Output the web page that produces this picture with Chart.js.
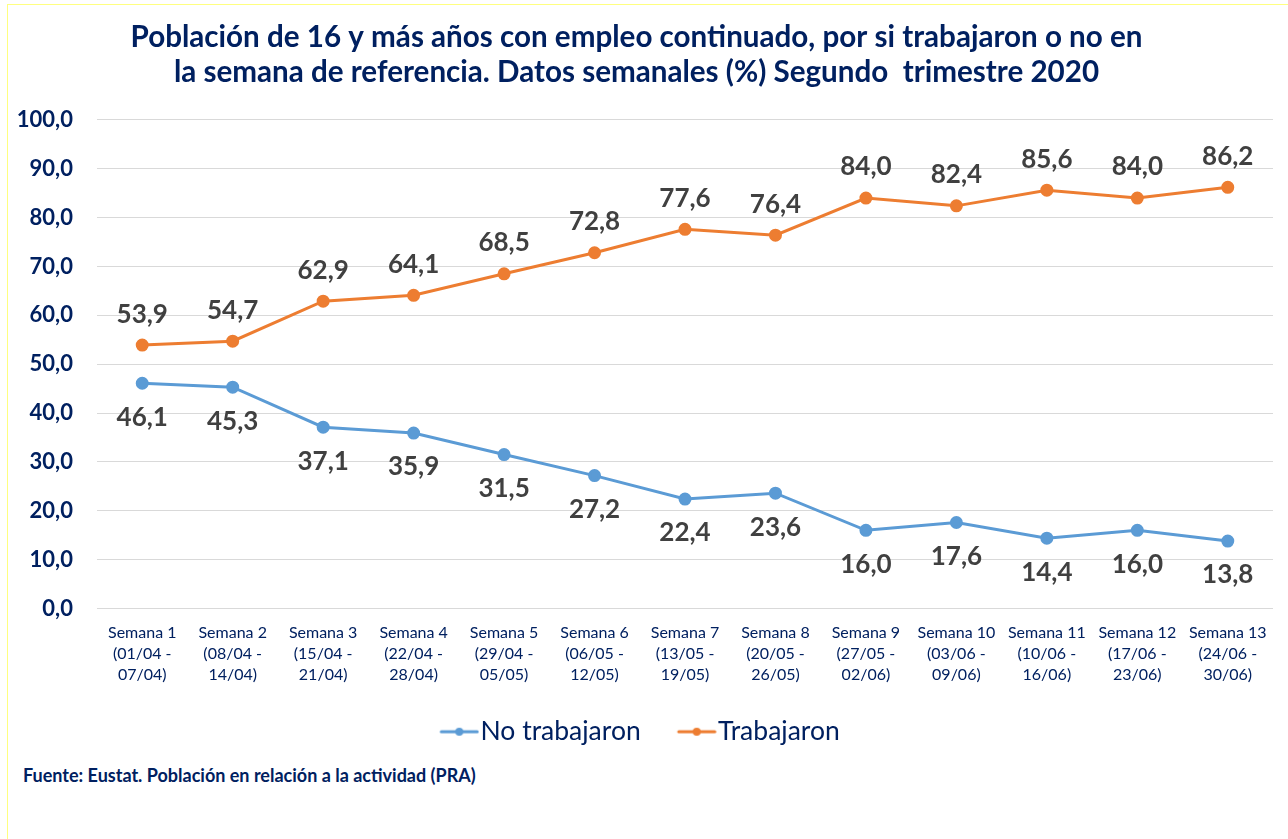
<!DOCTYPE html>
<html>
<head>
<meta charset="utf-8">
<script src="https://cdn.jsdelivr.net/npm/chart.js@4.4.0/dist/chart.umd.min.js"></script>
<style>
  html, body { margin: 0; padding: 0; background: #fff; }
  body { width: 1288px; height: 839px; position: relative; overflow: hidden; font-family: Lato, "Open Sans", sans-serif; }
  #frame { position: absolute; left: 7px; top: 4px; width: 1400px; height: 900px; border: 1px solid #ffff80; box-sizing: border-box; }
  #wrap { position: absolute; left: 0; top: 0; width: 1288px; height: 760px; }
  #footer { position: absolute; left: 23px; top: 764px; font-size: 18px; line-height: 22px; font-weight: bold; color: #002060; white-space: nowrap; }
</style>
</head>
<body>
<div id="frame"></div>
<div id="wrap"><canvas id="c"></canvas></div>
<div id="footer">Fuente: Eustat. Población en relación a la actividad (PRA)</div>
<script>
const categories = [
  ["Semana 1", "(01/04 -", "07/04)"],
  ["Semana 2", "(08/04 -", "14/04)"],
  ["Semana 3", "(15/04 -", "21/04)"],
  ["Semana 4", "(22/04 -", "28/04)"],
  ["Semana 5", "(29/04 -", "05/05)"],
  ["Semana 6", "(06/05 -", "12/05)"],
  ["Semana 7", "(13/05 -", "19/05)"],
  ["Semana 8", "(20/05 -", "26/05)"],
  ["Semana 9", "(27/05 -", "02/06)"],
  ["Semana 10", "(03/06 -", "09/06)"],
  ["Semana 11", "(10/06 -", "16/06)"],
  ["Semana 12", "(17/06 -", "23/06)"],
  ["Semana 13", "(24/06 -", "30/06)"]
];
const noTrabajaron = [46.1, 45.3, 37.1, 35.9, 31.5, 27.2, 22.4, 23.6, 16.0, 17.6, 14.4, 16.0, 13.8];
const trabajaron = [53.9, 54.7, 62.9, 64.1, 68.5, 72.8, 77.6, 76.4, 84.0, 82.4, 85.6, 84.0, 86.2];
const titleLines = [
  "Población de 16 y más años con empleo continuado, por si trabajaron o no en",
  "la semana de referencia. Datos semanales (%) Segundo  trimestre 2020"
];

const NAVY = "#002060";
const BLUE = "#5B9BD5";
const ORANGE = "#ED7D31";
const FONT = "Lato, 'Open Sans', sans-serif";

// legend icon: line with a dot, placed at the right side of a wider transparent image
function legendIcon(color) {
  const cv = document.createElement("canvas");
  cv.width = 78; cv.height = 12;
  const g = cv.getContext("2d");
  const x1 = 78 - 38, x2 = 78 - 2;
  g.strokeStyle = color; g.lineWidth = 3; g.lineCap = "round";
  g.beginPath(); g.moveTo(x1, 6); g.lineTo(x2, 6); g.stroke();
  g.fillStyle = color; g.beginPath(); g.arc((x1 + x2) / 2, 6, 4, 0, Math.PI * 2); g.fill();
  return cv;
}

const valueLabels = {
  id: "valueLabels",
  afterDatasetsDraw(chart) {
    const ctx = chart.ctx;
    ctx.save();
    ctx.font = "bold 26px " + FONT;
    ctx.fillStyle = "#404040";
    ctx.textAlign = "center";
    ctx.textBaseline = "middle";
    chart.data.datasets.forEach((ds, di) => {
      const meta = chart.getDatasetMeta(di);
      meta.data.forEach((pt, i) => {
        const off = ds.labelAbove ? -31 : 34;
        ctx.fillText(ds.data[i].toFixed(1).replace(".", ","), pt.x, pt.y + off);
      });
    });
    ctx.restore();
  }
};

const legendShift = {
  id: "legendShift",
  afterLayout(chart) {
    if (chart.legend) { chart.legend.left -= 10; chart.legend.right -= 10; }
  }
};

new Chart(document.getElementById("c"), {
  type: "line",
  data: {
    labels: categories,
    datasets: [
      { label: "No trabajaron", data: noTrabajaron, borderColor: BLUE, backgroundColor: BLUE,
        borderWidth: 3, pointRadius: 5, pointHoverRadius: 5, pointStyle: "circle", labelAbove: false, tension: 0 },
      { label: "Trabajaron", data: trabajaron, borderColor: ORANGE, backgroundColor: ORANGE,
        borderWidth: 3, pointRadius: 5, pointHoverRadius: 5, pointStyle: "circle", labelAbove: true, tension: 0 }
    ]
  },
  options: {
    responsive: true,
    maintainAspectRatio: false,
    animation: false,
    layout: { padding: { left: 0, right: 15, top: 0, bottom: 5 } },
    plugins: {
      title: {
        display: true,
        text: titleLines,
        color: NAVY,
        font: { family: FONT, size: 29.6, weight: "bold", lineHeight: 1.18 },
        padding: { top: 20, bottom: 30 }
      },
      legend: {
        position: "bottom",
        labels: {
          usePointStyle: true,
          pointStyleWidth: 54,
          padding: 10,
          color: NAVY,
          font: { family: FONT, size: 26.5 },
          generateLabels(chart) {
            return chart.data.datasets.map((ds, i) => ({
              text: ds.label,
              pointStyle: legendIcon(ds.borderColor),
              fillStyle: ds.borderColor,
              strokeStyle: ds.borderColor,
              lineWidth: 0,
              hidden: false,
              datasetIndex: i,
              fontColor: NAVY
            }));
          }
        }
      },
      tooltip: { enabled: false }
    },
    scales: {
      x: {
        offset: true,
        grid: { display: false, drawTicks: false },
        border: { display: false },
        ticks: {
          color: NAVY,
          font: { family: FONT, size: 16, lineHeight: 1.3 },
          padding: 14,
          maxRotation: 0,
          autoSkip: false
        },
        afterFit(s) { s.height = 100; }
      },
      y: {
        min: 0, max: 100,
        grid: { color: "#d9d9d9", lineWidth: 1, drawTicks: false },
        border: { display: false },
        ticks: {
          stepSize: 10,
          color: NAVY,
          padding: 24,
          font: { family: FONT, size: 22, weight: "bold" },
          callback: (v) => Number(v).toFixed(1).replace(".", ",")
        },
        afterFit(s) { s.width = 97; }
      }
    }
  },
  plugins: [valueLabels, legendShift]
});
</script>
</body>
</html>
